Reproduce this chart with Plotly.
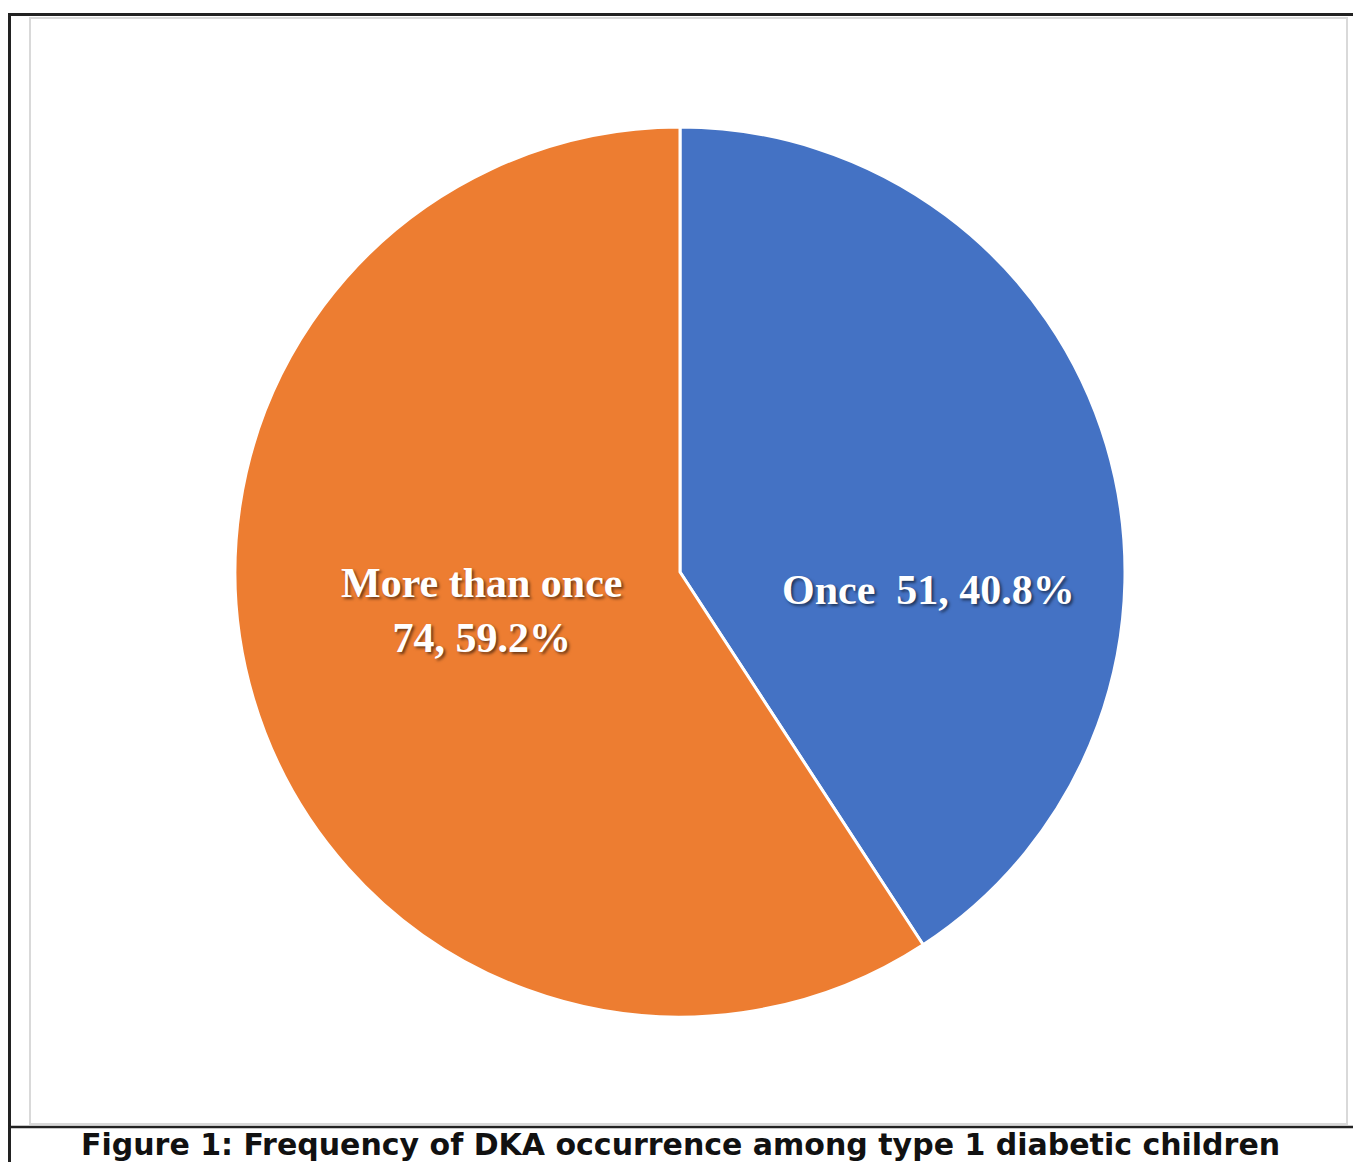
import plotly.graph_objects as go

W, H = 1353, 1162

labels = ["Once", "More than once"]
counts = [51, 74]
percents = [40.8, 59.2]
colors = ["#4472C4", "#ED7D31"]
caption = "Figure 1: Frequency of DKA occurrence among type 1 diabetic children"


def px(x):
    return x / W


def py(y):
    return 1 - y / H


fig = go.Figure()
fig.add_trace(go.Pie(
    labels=labels,
    values=counts,
    sort=False,
    direction="clockwise",
    rotation=0,
    marker=dict(colors=colors, line=dict(color="white", width=3)),
    textinfo="none",
    hoverinfo="label+value+percent",
    showlegend=False,
    domain=dict(x=[px(235), px(1125)], y=[py(1017), py(127)]),
))

label_font = dict(family="Liberation Serif", size=42, color="white",
                  shadow="2px 2px 3px rgba(0,0,0,0.55)")
label_texts = [
    f"<b>{labels[0]}&nbsp;&nbsp;{counts[0]}, {percents[0]}%</b>",
    f"<b>{labels[1]}<br>{counts[1]}, {percents[1]}%</b>",
]
label_pos = [(928, 590), (482, 610)]
for t, (x, y) in zip(label_texts, label_pos):
    fig.add_annotation(x=px(x), y=py(y), xref="paper", yref="paper", text=t,
                       showarrow=False, font=label_font, xanchor="center",
                       yanchor="middle", align="center")

fig.add_annotation(x=px(680), y=py(1144), xref="paper", yref="paper",
                   text=f"<b>{caption}</b>", showarrow=False,
                   font=dict(family="DejaVu Sans", size=30, color="#111111"),
                   xanchor="center", yanchor="middle")

shapes = [
    dict(type="rect", x0=px(30), x1=px(1347), y0=py(18), y1=py(1124),
         line=dict(color="#d9d9d9", width=2)),
    dict(type="line", x0=px(8), x1=px(1353), y0=py(14.5), y1=py(14.5),
         line=dict(color="#222222", width=3)),
    dict(type="line", x0=px(9.5), x1=px(9.5), y0=py(13), y1=py(1162),
         line=dict(color="#222222", width=3)),
    dict(type="line", x0=px(8), x1=px(1353), y0=py(1127), y1=py(1127),
         line=dict(color="#222222", width=2.5)),
]
for s in shapes:
    s.update(xref="paper", yref="paper")
fig.update_layout(shapes=shapes, width=W, height=H,
                  margin=dict(l=0, r=0, t=0, b=0),
                  paper_bgcolor="white", plot_bgcolor="white")

fig.write_html("out.html")
